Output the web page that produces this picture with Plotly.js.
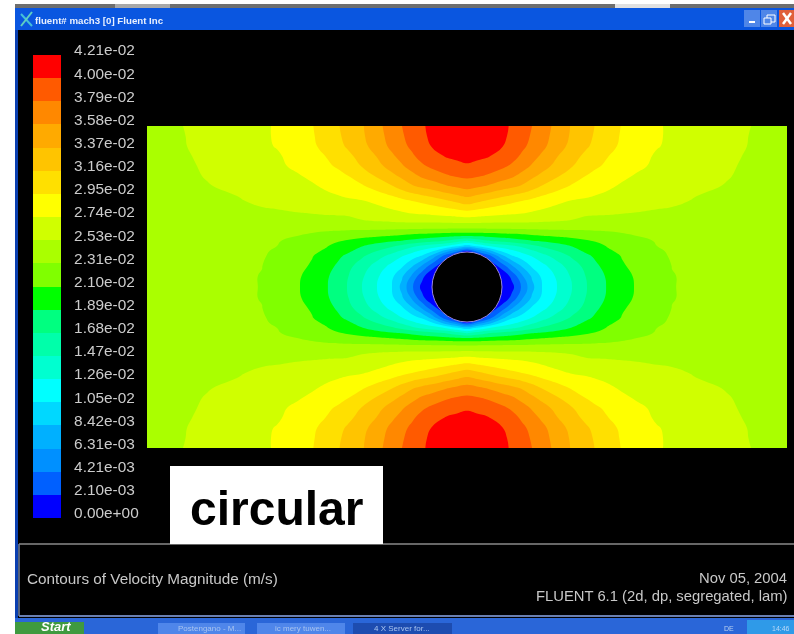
<!DOCTYPE html>
<html>
<head>
<meta charset="utf-8">
<script src="https://cdn.plot.ly/plotly-3.0.1.min.js"></script>
<style>html,body{margin:0;padding:0;background:#fff;overflow:hidden}#c{width:794px;height:634px;filter:blur(0.5px)}</style>
</head>
<body>
<div id="c"></div>
<script>
// Band colours, lowest velocity first
const bandColors = ['#0000ff','#0060ff','#0090ff','#00b0ff','#00d8ff','#00ffff','#00ffd0','#00ffaa','#00ff80','#00ff00',
                    '#80ff00','#aaff00','#d0ff00','#ffff00','#ffe000','#ffc400','#ffaa00','#ff8800','#ff5a00','#ff0000'];
const tickLabels = ['0.00e+00','2.10e-03','4.21e-03','6.31e-03','8.42e-03','1.05e-02','1.26e-02','1.47e-02','1.68e-02','1.89e-02','2.10e-02',
                    '2.31e-02','2.53e-02','2.74e-02','2.95e-02','3.16e-02','3.37e-02','3.58e-02','3.79e-02','4.00e-02','4.21e-02'];
const levelStep = 0.0421 / 20;      // m/s per contour band

// Upper-left quadrant of the duct; values in contour bands
const xCols = [0,30,60,90,115,130,150,165,180,190,200,215,230,245,255,265,275,285,300,310,320];
const yRows = [0,10,20,30,40,50,60,75,90,100,105,110,115,120,125,130,140,150,161];
const r00  = [11.7,11.95,12.2,12.5,12.85,13.1,13.55,13.95,14.5,14.9,15.3,15.9,16.7,17.5,18,18.5,18.9,19.2,19.6,19.85,20];
const r10  = [11.65,11.92,12.2,12.5,12.85,13.1,13.5,13.9,14.45,14.85,15.2,15.85,16.6,17.4,17.9,18.35,18.8,19.2,19.55,19.75,19.85];
const r20  = [11.6,11.9,12.2,12.5,12.85,13.05,13.5,13.85,14.3,14.7,15.1,15.7,16.45,17.25,17.75,18.2,18.65,19.05,19.3,19.45,19.5];
const r30  = [11.55,11.85,12.15,12.45,12.75,12.9,13.3,13.65,14.05,14.35,14.75,15.35,16.05,16.85,17.35,17.85,18.35,18.65,19.1,19.2,19.25];
const r40  = [11.5,11.8,12.1,12.4,12.65,12.85,13.15,13.5,13.85,14.1,14.45,15.05,15.7,16.4,16.9,17.4,17.85,18.2,18.55,18.75,18.9];
const r50  = [11.45,11.75,12.05,12.3,12.55,12.7,12.92,13.15,13.5,13.7,13.95,14.5,15.1,15.75,16.2,16.7,17.15,17.45,17.9,18.1,18.2];
const r60  = [11.4,11.7,11.95,12.2,12.4,12.55,12.75,12.9,13.15,13.35,13.55,13.9,14.4,14.95,15.45,15.9,16.25,16.5,16.95,17.2,17.4];
const r75  = [11.3,11.5,11.7,11.9,12.2,12.3,12.45,12.55,12.7,12.75,12.85,12.95,13.2,13.5,13.75,14,14.2,14.45,14.9,15.2,15.5];
const r90  = [11.25,11.35,11.45,11.6,11.7,11.75,11.85,11.9,11.95,11.97,12,12.2,12.4,12.6,12.7,12.8,12.85,12.9,13,13.1,13.2];
const r100 = [11.25,11.3,11.35,11.35,11.4,11.4,11.45,11.5,11.55,11.6,11.6,11.65,11.65,11.6,11.6,11.55,11.55,11.5,11.5,11.5,11.5];
const r105 = [11.25,11.3,11.3,11.3,11.3,11.25,11.15,11.1,11.02,10.98,10.9,10.85,10.8,10.75,10.7,10.65,10.6,10.6,10.55,10.52,10.5];
const r110 = [11.25,11.3,11.3,11.25,11.2,11.1,11,10.85,10.7,10.55,10.4,10.25,10.1,9.95,9.8,9.65,9.5,9.35,9.2,9.1,9];
const r115 = [11.25,11.25,11.25,11.2,11.15,11.05,10.8,10.55,10.25,10.1,9.9,9.6,9.35,9.1,8.95,8.75,8.5,8.3,7.9,7.4,6.9];
const r120 = [11.2,11.2,11.2,11.2,11.1,11,10.6,10.3,10.05,9.7,9.5,9.05,8.6,8.15,7.75,7.25,6.85,6.5,5.9,5.2,4.5];
const r125 = [11.2,11.2,11.2,11.15,11.1,10.9,10.5,10.2,9.85,9.5,9.2,8.65,8,7.35,6.85,6.3,5.8,5.2,3.4,2.3,1];
const r130 = [11.15,11.15,11.2,11.15,11.08,10.8,10.35,10.05,9.55,9.2,8.85,8.15,7.4,6.65,6.05,5.5,4.9,3.7,1.3,0,0];
const r140 = [11.15,11.15,11.15,11.1,11.01,10.65,10.25,9.9,9.3,8.9,8.35,7.5,6.6,5.7,5.15,4.1,2.9,1.45,0,0,0];
const r150 = [11.15,11.15,11.15,11.1,10.98,10.6,10.15,9.65,9.1,8.65,8.1,7.15,6.15,5.2,4.15,2.85,1.3,0.2,0,0,0];
const r161 = [11.15,11.15,11.15,11.1,10.98,10.55,10.1,9.6,9.05,8.5,8,7,6,5,3.7,2.15,0.7,0,0,0,0];
const quadrant = [r00,r10,r20,r30,r40,r50,r60,r75,r90,r100,r105,r110,r115,r120,r125,r130,r140,r150,r161];

// The duct is symmetric about both centre lines
const ductW = 640, ductH = 322;
const xFull = xCols.concat(xCols.slice(0,-1).reverse().map(u => ductW - u));
const yFull = yRows.concat(yRows.slice(0,-1).reverse().map(v => ductH - v));
const mirrorRow = r => r.concat(r.slice(0,-1).reverse()).map(l => l * levelStep);
const zFull = quadrant.concat(quadrant.slice(0,-1).reverse()).map(mirrorRow);

const W = 794, H = 634;
const px = x => x / W, py = y => 1 - y / H;

const colorscale = [];
bandColors.forEach((c,i) => { colorscale.push([i/20,c]); colorscale.push([(i+1)/20,c]); });

const field = {
  type:'contour', x:xFull, y:yFull, z:zFull, xaxis:'x', yaxis:'y',
  zmin:0, zmax:20*levelStep, colorscale, showscale:false, hoverinfo:'skip',
  autocontour:false,
  contours:{start:levelStep, end:19*levelStep, size:levelStep, coloring:'fill', showlines:false},
  line:{width:0, smoothing:1.3}
};

// Colour key on its own axis
const barPerPx = 0.0421 / 463;
const bandMid = bandColors.map((c,i) => (i+0.5)*levelStep);
const key = {
  type:'heatmap', x:[0], y:bandMid, z:bandMid.map(v => [v]), xaxis:'x2', yaxis:'y2',
  zmin:0, zmax:20*levelStep, colorscale, showscale:false, hoverinfo:'skip'
};

function rect(x0,y0,x1,y1,fill,layer,line){
  return {type:'rect',xref:'paper',yref:'paper',x0:px(x0),x1:px(x1),y0:py(y1),y1:py(y0),
          fillcolor:fill,layer:layer||'below',line:line||{width:0}};
}
function seg(x0,y0,x1,y1,color,w){
  return {type:'line',xref:'paper',yref:'paper',x0:px(x0),x1:px(x1),y0:py(y0),y1:py(y1),
          layer:'above',line:{color:color,width:w}};
}
const FONT = '"Liberation Sans",Arial,sans-serif';
function label(text,x,y,size,color,anchor,extra){
  return {text,xref:'paper',yref:'paper',x:px(x),y:py(y),showarrow:false,
    xanchor:anchor||'left',yanchor:'middle',
    font:Object.assign({family:FONT,size,color},extra||{})};
}

const shapes = [
  rect(15,4,794,8,'#6e6e6e'),
  rect(115,4,170,8,'#a8a8a8'),rect(615,4,670,8,'#e0e0e0'),
  rect(15,8,794,30,'#0a56e0'),
  rect(15,30,794,619,'#000000'),
  rect(15,30,18,619,'#0a3fb0'),
  rect(744,10,760,27,'#4f86e8'),rect(761,10,777,27,'#4f86e8'),rect(779,10,794,27,'#e0603a'),
  rect(749,21,755,23,'#ffffff','above'),
  rect(767,15,775,22,'rgba(0,0,0,0)','above',{color:'#ffffff',width:1}),
  rect(764,18,771,24,'#4f86e8','above',{color:'#ffffff',width:1}),
  seg(783,13,791,24,'#ffffff',2.5),seg(791,13,783,24,'#ffffff',2.5),
  seg(21,14,32,26,'#45c0d8',2),seg(32,12,21,26,'#60d0c0',2),
  seg(19,544,794,544,'#8a8a8a',1.5),
  seg(19,544,19,616,'#7080a0',1.5),
  seg(19,616,794,616,'#6a7fb0',2),
  rect(15,618,794,634,'#2a66d8'),
  rect(15,622,84,634,'#3f9a3f'),
  rect(158,623,245,634,'#4f86ea'),
  rect(257,623,345,634,'#4f86ea'),
  rect(353,623,452,634,'#1d4cb0'),
  rect(747,620,794,634,'#2f9ae8'),
  rect(170,466,383,544,'#ffffff','above'),
  {type:'circle',xref:'x',yref:'y',x0:285,x1:355,y0:126,y1:196,fillcolor:'#000000',layer:'above',
   line:{color:'#9a88d8',width:1}}
];

const annotations = [
  label('fluent# mach3 [0] Fluent Inc',33,20,9.7,'#e8f0ff','left',{weight:'bold'}),
  label('circular',276,508,48,'#000000','center',{weight:'bold'}),
  label('Contours of Velocity Magnitude (m/s)',25,578,15.3,'#c8c8c8'),
  label('Nov 05, 2004',789,578,14.8,'#c8c8c8','right'),
  label('FLUENT 6.1 (2d, dp, segregated, lam)',789,596,14.8,'#c8c8c8','right'),
  label('Start',39,626,13,'#ffffff','left',{weight:'bold',style:'italic'}),
  label('Postengano - M...',176,628,8,'#a8c4f0'),
  label('ic mery tuwen...',273,628,8,'#a8c4f0'),
  label('4 X Server for...',372,628,8,'#a8c4f0'),
  label('DE',722,628,7,'#b8d0f0'),
  label('14:46',770,628,7,'#b8d8f8')
];

const layout = {
  width:W, height:H, margin:{l:0,r:0,t:0,b:0,pad:0},
  paper_bgcolor:'#ffffff', plot_bgcolor:'rgba(0,0,0,0)', showlegend:false,
  xaxis:{domain:[px(147),px(787)],range:[0,ductW],visible:false,fixedrange:true},
  yaxis:{domain:[py(448),py(126)],range:[ductH,0],visible:false,fixedrange:true},
  xaxis2:{domain:[px(33),px(61)],range:[-0.5,0.5],visible:false,anchor:'y2',fixedrange:true},
  yaxis2:{domain:[py(525),py(40)],range:[-7*barPerPx,0.0421+15*barPerPx],anchor:'x2',side:'right',
    tickmode:'array',tickvals:tickLabels.map((t,i)=>i*levelStep+5*barPerPx),ticktext:tickLabels,
    ticks:'outside',ticklen:9,tickcolor:'rgba(0,0,0,0)',showgrid:false,zeroline:false,showline:false,
    tickfont:{family:FONT,size:15.4,color:'#cccccc'},fixedrange:true},
  shapes, annotations
};
Plotly.newPlot('c',[field,key],layout,{displayModeBar:false,staticPlot:true});
</script>
</body>
</html>
